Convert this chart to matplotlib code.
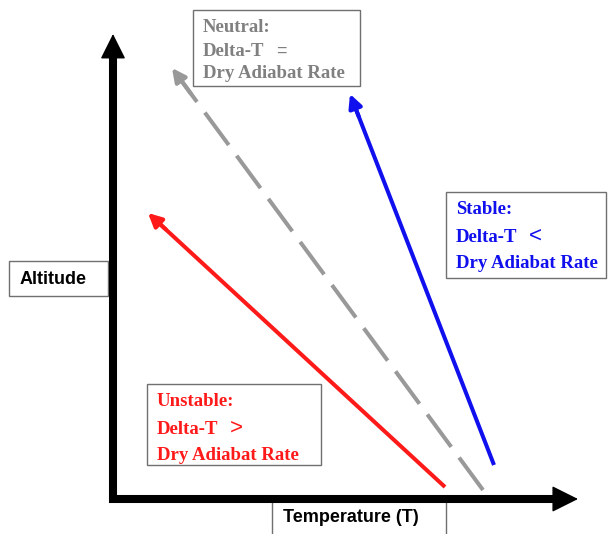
import matplotlib.pyplot as plt
from matplotlib.patches import Rectangle

# line endpoints in picture pixels (start, tip)
unstable_x = [445, 148]
unstable_y = [487, 213]
neutral_x = [483, 172]
neutral_y = [490, 68]
stable_x = [494, 350]
stable_y = [465, 94]

unstable_lines = ["Unstable:", "Delta-T", "Dry Adiabat Rate"]
neutral_lines = ["Neutral:", "Delta-T", "Dry Adiabat Rate"]
stable_lines = ["Stable:", "Delta-T", "Dry Adiabat Rate"]

fig = plt.figure(figsize=(6.08, 5.34), dpi=100)
ax = fig.add_axes([0, 0, 1, 1])
ax.set_xlim(0, 608)
ax.set_ylim(534, 0)
ax.axis('off')


def arrow(xs, ys, color, lw, ms, dashed=False):
    # shaft
    ls = (0, (10, 3.3)) if dashed else '-'
    fx = xs[1] + (xs[0] - xs[1]) * 0.03
    fy = ys[1] + (ys[0] - ys[1]) * 0.03
    ax.plot([xs[0], fx], [ys[0], fy], color=color, lw=lw, ls=ls,
            solid_capstyle='butt', dash_capstyle='butt')
    # head
    hx = xs[1] + (xs[0] - xs[1]) * 0.06
    hy = ys[1] + (ys[0] - ys[1]) * 0.06
    ax.annotate('', xy=(xs[1], ys[1]), xytext=(hx, hy),
                arrowprops=dict(arrowstyle='-|>', color=color, lw=lw,
                                mutation_scale=ms, shrinkA=0, shrinkB=0))


# label boxes sitting under the axes
ax.add_patch(Rectangle((9, 261), 99, 35, facecolor='white', edgecolor='#707070', lw=1, zorder=1))
ax.add_patch(Rectangle((272, 500), 174, 40, facecolor='white', edgecolor='#707070', lw=1, zorder=1))
ax.text(20, 279, "Altitude", fontsize=13, fontweight='bold', family='Liberation Sans',
        va='center', zorder=4)
ax.text(283, 518, "Temperature (T)", fontsize=13, fontweight='bold', family='Liberation Sans',
        va='center', zorder=4)

# axes arrows
ax.plot([113, 113], [503, 52], color='black', lw=5.8, solid_capstyle='butt', zorder=3)
ax.annotate('', xy=(113, 34), xytext=(113, 70),
            arrowprops=dict(arrowstyle='-|>', color='black', lw=1,
                            mutation_scale=40, shrinkA=0, shrinkB=0), zorder=3)
ax.plot([109, 558], [499, 499], color='black', lw=5.8, solid_capstyle='butt', zorder=3)
ax.annotate('', xy=(578, 499), xytext=(545, 499),
            arrowprops=dict(arrowstyle='-|>', color='black', lw=1,
                            mutation_scale=42, shrinkA=0, shrinkB=0), zorder=3)

arrow(unstable_x, unstable_y, '#ff1a1a', 2.9, 20)
arrow(neutral_x, neutral_y, '#999999', 2.9, 20, dashed=True)
arrow(stable_x, stable_y, '#1010ee', 2.9, 20)

box_kw = dict(fill=False, edgecolor='#707070', lw=1)
serif = dict(fontsize=13.5, fontweight='bold', family='Liberation Serif', va='center')

# neutral box
ax.add_patch(Rectangle((193, 10), 167, 76, **box_kw))
for t, y in zip(neutral_lines, [27, 51, 74]):
    ax.text(203, y, t, color='#808080', **serif)
ax.text(276, 51, "=", color='#808080', fontsize=13, family='Liberation Sans', va='center')

# stable box
ax.add_patch(Rectangle((446, 192), 160, 86, **box_kw))
for t, y in zip(stable_lines, [210, 238, 263]):
    ax.text(456, y, t, color='#1010ee', **serif)
ax.text(529, 236, "<", color='#1010ee', fontsize=16, family='Liberation Sans', va='center')

# unstable box
ax.add_patch(Rectangle((147, 384), 174, 81, **box_kw))
for t, y in zip(unstable_lines, [402, 430, 455]):
    ax.text(157, y, t, color='#ff1a1a', **serif)
ax.text(230, 428, ">", color='#ff1a1a', fontsize=16, family='Liberation Sans', va='center')

fig.savefig('out.png', dpi=100)
